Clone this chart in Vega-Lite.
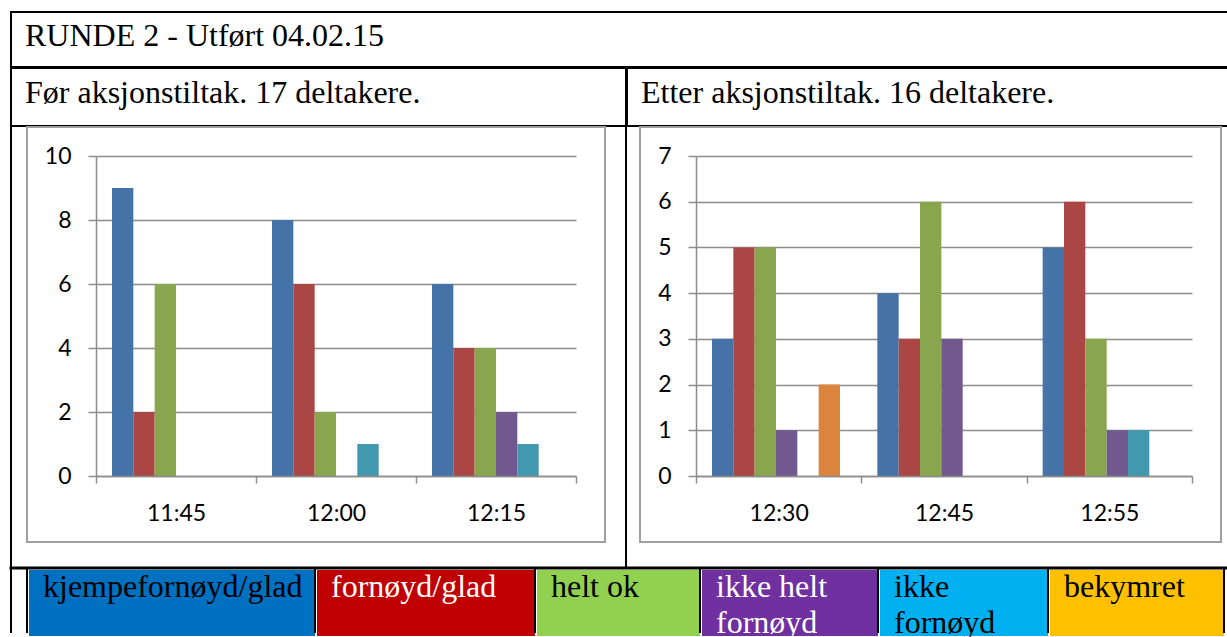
{
  "$schema": "https://vega.github.io/schema/vega-lite/v6.json",
  "padding": {"left": 9, "top": 11, "right": -4, "bottom": 0},
  "background": "white",
  "datasets": {
    "tom": [],
    "before": [
      {"tid": "11:45", "kategori": "kjempefornøyd/glad", "antall": 9},
      {"tid": "11:45", "kategori": "fornøyd/glad", "antall": 2},
      {"tid": "11:45", "kategori": "helt ok", "antall": 6},
      {"tid": "12:00", "kategori": "kjempefornøyd/glad", "antall": 8},
      {"tid": "12:00", "kategori": "fornøyd/glad", "antall": 6},
      {"tid": "12:00", "kategori": "helt ok", "antall": 2},
      {"tid": "12:00", "kategori": "ikke fornøyd", "antall": 1},
      {"tid": "12:15", "kategori": "kjempefornøyd/glad", "antall": 6},
      {"tid": "12:15", "kategori": "fornøyd/glad", "antall": 4},
      {"tid": "12:15", "kategori": "helt ok", "antall": 4},
      {"tid": "12:15", "kategori": "ikke helt fornøyd", "antall": 2},
      {"tid": "12:15", "kategori": "ikke fornøyd", "antall": 1}
    ],
    "after": [
      {"tid": "12:30", "kategori": "kjempefornøyd/glad", "antall": 3},
      {"tid": "12:30", "kategori": "fornøyd/glad", "antall": 5},
      {"tid": "12:30", "kategori": "helt ok", "antall": 5},
      {"tid": "12:30", "kategori": "ikke helt fornøyd", "antall": 1},
      {"tid": "12:30", "kategori": "bekymret", "antall": 2},
      {"tid": "12:45", "kategori": "kjempefornøyd/glad", "antall": 4},
      {"tid": "12:45", "kategori": "fornøyd/glad", "antall": 3},
      {"tid": "12:45", "kategori": "helt ok", "antall": 6},
      {"tid": "12:45", "kategori": "ikke helt fornøyd", "antall": 3},
      {"tid": "12:55", "kategori": "kjempefornøyd/glad", "antall": 5},
      {"tid": "12:55", "kategori": "fornøyd/glad", "antall": 6},
      {"tid": "12:55", "kategori": "helt ok", "antall": 3},
      {"tid": "12:55", "kategori": "ikke helt fornøyd", "antall": 1},
      {"tid": "12:55", "kategori": "ikke fornøyd", "antall": 1}
    ]
  },
  "config": {
    "view": {"stroke": null},
    "title": {"font": "Liberation Serif", "fontSize": 32, "fontWeight": "normal", "color": "#000000", "anchor": "start", "frame": "group", "orient": "top", "baseline": "top", "lineHeight": 36},
    "axis": {"labelFont": "Lato", "labelFontSize": 23, "labelColor": "#000000", "domainColor": "#8c8c8c", "tickColor": "#8c8c8c", "gridColor": "#8c8c8c", "domainWidth": 1.5, "tickWidth": 1.5, "gridWidth": 1.5}
  },
  "spacing": -4,
  "vconcat": [
    {"width": 1218, "height": 55, "data": {"name": "tom"}, "mark": "point", "view": {"stroke": "black", "strokeWidth": 2, "fill": "white"}, "title": {"text": "RUNDE 2 - Utført 04.02.15", "offset": -41, "dx": 14}},
    {"spacing": -4, "hconcat": [
      {"width": 615, "height": 58, "data": {"name": "tom"}, "mark": "point", "view": {"stroke": "black", "strokeWidth": 2, "fill": "white"}, "title": {"text": "Før aksjonstiltak. 17 deltakere.", "offset": -42, "dx": 14}},
      {"width": 603, "height": 58, "data": {"name": "tom"}, "mark": "point", "view": {"stroke": "black", "strokeWidth": 2, "fill": "white"}, "title": {"text": "Etter aksjonstiltak. 16 deltakere.", "offset": -42, "dx": 14}}
    ]},
    {"spacing": 0, "hconcat": [
      {"width": 0.01, "height": 440, "data": {"name": "tom"}, "mark": "point", "view": {"stroke": "black", "strokeWidth": 2}},
      {"width": 13, "height": 1, "data": {"name": "tom"}, "mark": "point"},
      {
        "width": 578, "height": 415,
        "data": {"name": "before"},
        "view": {"stroke": "#a0a0a0", "strokeWidth": 2, "fill": "white"},
        "mark": {"type": "bar"},
        "encoding": {
          "x": {"field": "tid", "type": "nominal", "sort": null, "title": null,
            "scale": {"range": [69, 549], "paddingInner": 0, "paddingOuter": 0},
            "axis": {"offset": -66, "tickBand": "extent", "tickSize": 7, "labelPadding": 19, "labelAngle": 0, "grid": false, "zindex": 1}},
          "xOffset": {"field": "kategori", "type": "nominal",
            "scale": {"domain": ["kjempefornøyd/glad", "fornøyd/glad", "helt ok", "ikke helt fornøyd", "ikke fornøyd", "bekymret"], "paddingInner": 0, "paddingOuter": 0.75}},
          "y": {"field": "antall", "type": "quantitative", "title": null,
            "scale": {"domain": [0, 10], "range": [349, 29], "nice": false},
            "axis": {"offset": -69, "values": [0, 2, 4, 6, 8, 10], "tickSize": 8, "labelPadding": 17, "grid": true, "zindex": 0}},
          "color": {"field": "kategori", "type": "nominal", "legend": null,
            "scale": {"domain": ["kjempefornøyd/glad", "fornøyd/glad", "helt ok", "ikke helt fornøyd", "ikke fornøyd", "bekymret"], "range": ["#4572A7", "#AA4643", "#89A54E", "#71588F", "#4198AF", "#DB843D"]}}
        }
      },
      {"width": 19, "height": 1, "data": {"name": "tom"}, "mark": "point"},
      {"width": 0.01, "height": 440, "data": {"name": "tom"}, "mark": "point", "view": {"stroke": "black", "strokeWidth": 2}},
      {"width": 11, "height": 1, "data": {"name": "tom"}, "mark": "point"},
      {
        "width": 581, "height": 415,
        "data": {"name": "after"},
        "view": {"stroke": "#a0a0a0", "strokeWidth": 2, "fill": "white"},
        "mark": {"type": "bar"},
        "encoding": {
          "x": {"field": "tid", "type": "nominal", "sort": null, "title": null,
            "scale": {"range": [56, 552], "paddingInner": 0, "paddingOuter": 0},
            "axis": {"offset": -66, "tickBand": "extent", "tickSize": 7, "labelPadding": 19, "labelAngle": 0, "grid": false, "zindex": 1}},
          "xOffset": {"field": "kategori", "type": "nominal",
            "scale": {"domain": ["kjempefornøyd/glad", "fornøyd/glad", "helt ok", "ikke helt fornøyd", "ikke fornøyd", "bekymret"], "paddingInner": 0, "paddingOuter": 0.75}},
          "y": {"field": "antall", "type": "quantitative", "title": null,
            "scale": {"domain": [0, 7], "range": [349, 29], "nice": false},
            "axis": {"offset": -56, "values": [0, 1, 2, 3, 4, 5, 6, 7], "tickSize": 8, "labelPadding": 17, "grid": true, "zindex": 0}},
          "color": {"field": "kategori", "type": "nominal", "legend": null,
            "scale": {"domain": ["kjempefornøyd/glad", "fornøyd/glad", "helt ok", "ikke helt fornøyd", "ikke fornøyd", "bekymret"], "range": ["#4572A7", "#AA4643", "#89A54E", "#71588F", "#4198AF", "#DB843D"]}}
        }
      }
    ]},
    {"spacing": -1.5, "vconcat": [
      {"width": 1218, "height": 0.01, "data": {"name": "tom"}, "mark": "point", "view": {"stroke": "black", "strokeWidth": 3}},
      {"spacing": -1, "hconcat": [
        {"width": 0.01, "height": 62, "data": {"name": "tom"}, "mark": "point", "view": {"stroke": "black", "strokeWidth": 2}},
        {"width": 14, "height": 1, "data": {"name": "tom"}, "mark": "point"},
        {"width": 0.01, "height": 62, "data": {"name": "tom"}, "mark": "point", "view": {"stroke": "black", "strokeWidth": 2}},
        {"width": 286, "height": 66, "data": {"name": "tom"}, "mark": "point", "view": {"fill": "#0070C0"}, "title": {"text": "kjempefornøyd/glad", "color": "#000000", "offset": -34, "dx": 14}},
        {"width": 0.01, "height": 62, "data": {"name": "tom"}, "mark": "point", "view": {"stroke": "black", "strokeWidth": 2}},
        {"width": 218, "height": 66, "data": {"name": "tom"}, "mark": "point", "view": {"fill": "#C00000"}, "title": {"text": "fornøyd/glad", "color": "#ffffff", "offset": -34, "dx": 14}},
        {"width": 0.01, "height": 62, "data": {"name": "tom"}, "mark": "point", "view": {"stroke": "black", "strokeWidth": 2}},
        {"width": 163, "height": 66, "data": {"name": "tom"}, "mark": "point", "view": {"fill": "#92D050"}, "title": {"text": "helt ok", "color": "#000000", "offset": -34, "dx": 14}},
        {"width": 0.01, "height": 62, "data": {"name": "tom"}, "mark": "point", "view": {"stroke": "black", "strokeWidth": 2}},
        {"width": 176, "height": 66, "data": {"name": "tom"}, "mark": "point", "view": {"fill": "#7030A0"}, "title": {"text": ["ikke helt", "fornøyd"], "color": "#ffffff", "offset": -70, "dx": 14}},
        {"width": 0.01, "height": 62, "data": {"name": "tom"}, "mark": "point", "view": {"stroke": "black", "strokeWidth": 2}},
        {"width": 168, "height": 66, "data": {"name": "tom"}, "mark": "point", "view": {"fill": "#00B0F0"}, "title": {"text": ["ikke", "fornøyd"], "color": "#000000", "offset": -70, "dx": 14}},
        {"width": 0.01, "height": 62, "data": {"name": "tom"}, "mark": "point", "view": {"stroke": "black", "strokeWidth": 2}},
        {"width": 174, "height": 66, "data": {"name": "tom"}, "mark": "point", "view": {"fill": "#FFC000"}, "title": {"text": "bekymret", "color": "#000000", "offset": -34, "dx": 14}},
        {"width": 0.01, "height": 62, "data": {"name": "tom"}, "mark": "point", "view": {"stroke": "black", "strokeWidth": 2}}
      ]}
    ]}
  ]
}
